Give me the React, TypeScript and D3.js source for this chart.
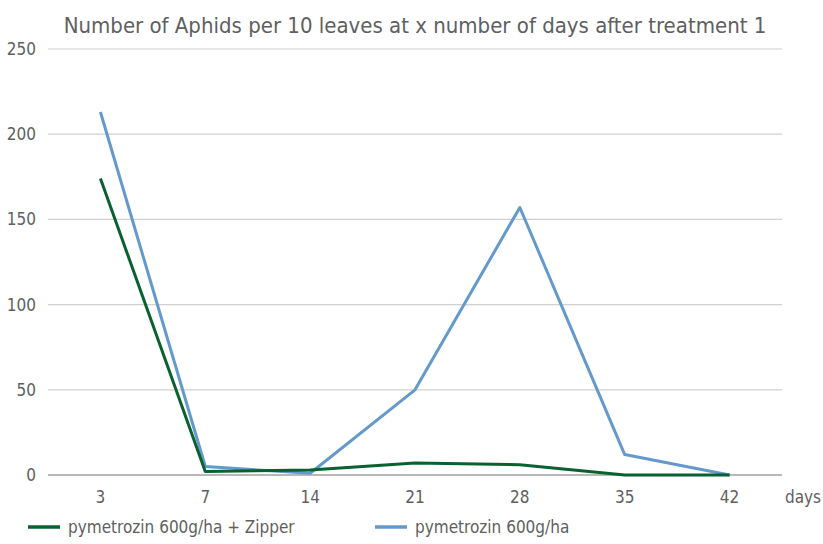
import React from 'react'
import * as d3 from 'd3'

const days = ['3', '7', '14', '21', '28', '35', '42']
const zipperValues = [174, 2, 3, 7, 6, 0, 0]
const pymetrozinValues = [213, 5, 1, 50, 157, 12, 0]
const yTicks = [0, 50, 100, 150, 200, 250]

const series = [
  { name: 'pymetrozin 600g/ha + Zipper', values: zipperValues, color: '#0a6130' },
  { name: 'pymetrozin 600g/ha', values: pymetrozinValues, color: '#6499cb' },
]

const W = 823
const H = 544
const font = "'Liberation Sans Narrow', 'DejaVu Sans Condensed', 'Open Sans', sans-serif"
const textColor = '#606060'

const App: React.FC = () => {
  const left = 48
  const right = 782
  const top = 49
  const bottom = 475

  const x = d3.scaleBand<string>().domain(days).range([left, right])
  const y = d3.scaleLinear().domain([0, 250]).range([bottom, top])
  const cx = (d: string) => (x(d) as number) + x.bandwidth() / 2

  const line = d3
    .line<number>()
    .x((_, i) => cx(days[i]))
    .y((v) => y(v))

  return (
    <svg
      width={W}
      height={H}
      style={{ position: 'absolute', left: 0, top: 0, background: '#fff' }}
      fontFamily={font}
    >
      <text x={415} y={33} textAnchor="middle" fontSize={22} fill={textColor}>
        Number of Aphids per 10 leaves at x number of days after treatment 1
      </text>

      {/* grid + y labels */}
      {yTicks.map((t) => (
        <g key={t}>
          <line
            x1={left}
            x2={right}
            y1={y(t)}
            y2={y(t)}
            stroke={t === 0 ? '#b8b8b8' : '#d0d0d0'}
            strokeWidth={t === 0 ? 2 : 1.2}
          />
          <text x={36} y={y(t) + 6} textAnchor="end" fontSize={17} fill={textColor}>
            {t}
          </text>
        </g>
      ))}

      {/* x labels */}
      {days.map((d) => (
        <text key={d} x={cx(d)} y={503} textAnchor="middle" fontSize={17} fill={textColor}>
          {d}
        </text>
      ))}
      <text x={803} y={503} textAnchor="middle" fontSize={17} fill={textColor}>
        days
      </text>

      {/* lines */}
      {series
        .slice()
        .reverse()
        .map((s) => (
          <path
            key={s.name}
            d={line(s.values) ?? ''}
            fill="none"
            stroke={s.color}
            strokeWidth={3}
            strokeLinejoin="round"
          />
        ))}

      {/* legend */}
      {series.map((s, i) => {
        const lx = i === 0 ? 28 : 375
        return (
          <g key={s.name}>
            <line x1={lx} x2={lx + 32} y1={527} y2={527} stroke={s.color} strokeWidth={3.5} />
            <text x={lx + 40} y={533} fontSize={17} fill={textColor}>
              {s.name}
            </text>
          </g>
        )
      })}
    </svg>
  )
}

export default App
